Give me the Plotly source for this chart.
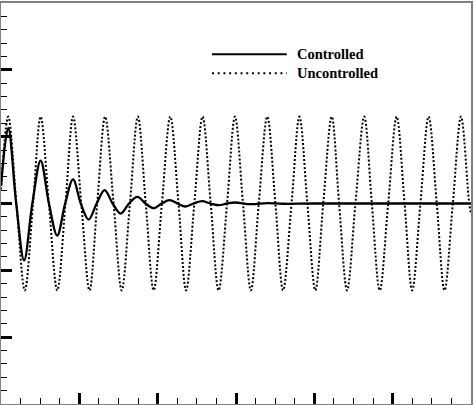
import plotly.graph_objects as go

# Uncontrolled response: extrema and zero crossings
unc_t = [0.0, 0.092, 0.197, 0.304, 0.409, 0.506, 0.611, 0.718, 0.823, 0.920,
         1.025, 1.130, 1.228, 1.329, 1.437, 1.541, 1.646, 1.747, 1.848, 1.949,
         2.054, 2.161, 2.266, 2.363, 2.468, 2.573, 2.677, 2.778, 2.886, 2.987,
         3.089, 3.190, 3.291, 3.399, 3.503, 3.601, 3.709, 3.810, 3.911, 4.013,
         4.114, 4.222, 4.316, 4.418, 4.525, 4.637, 4.734, 4.835, 4.943, 5.051,
         5.152, 5.249, 5.354, 5.459, 5.563, 5.662, 5.768, 5.873, 5.977, 6.0]
unc_y = [0.21, 1.3, 0, -1.3, 0, 1.3, 0, -1.3, 0, 1.3,
         0, -1.3, 0, 1.3, 0, -1.3, 0, 1.3, 0, -1.3,
         0, 1.3, 0, -1.3, 0, 1.3, 0, -1.3, 0, 1.3,
         0, -1.3, 0, 1.3, 0, -1.3, 0, 1.3, 0, -1.3,
         0, 1.3, 0, -1.3, 0, 1.3, 0, -1.3, 0, 1.3,
         0, -1.3, 0, 1.3, 0, -1.3, 0, 1.3, 0, -0.15]

# Controlled response: decaying oscillation
ctl_t = [0.0, 0.092, 0.194, 0.295, 0.400, 0.506, 0.612, 0.718, 0.819, 0.920,
         1.018, 1.118, 1.221, 1.323, 1.425, 1.528, 1.634, 1.741, 1.845, 1.949,
         2.051, 2.152, 2.253, 2.354, 2.460, 2.566, 2.675, 2.785, 2.886, 2.987,
         3.190, 3.399, 3.601, 4.0, 6.0]
ctl_y = [0.26, 1.13, 0, -0.85, 0, 0.64, 0, -0.48, 0, 0.36,
         0, -0.24, 0, 0.20, 0, -0.15, 0, 0.10, 0, -0.07,
         0, 0.05, 0, -0.045, 0, 0.035, 0, -0.025, 0, 0.015,
         -0.01, 0.006, -0.004, 0, 0]

legend_names = ['Controlled', 'Uncontrolled']

fig = go.Figure()

fig.add_trace(go.Scatter(x=unc_t, y=unc_y, mode='lines', name=legend_names[1],
                         line=dict(color='black', width=2, dash='2px,2px',
                                   shape='spline', smoothing=1),
                         showlegend=False))
fig.add_trace(go.Scatter(x=ctl_t, y=ctl_y, mode='lines', name=legend_names[0],
                         line=dict(color='black', width=2.3,
                                   shape='spline', smoothing=1),
                         showlegend=False))

# Hand-drawn legend (long sample lines like the original)
fig.add_shape(type='line', xref='paper', yref='paper',
              x0=0.449, x1=0.608, y0=0.872, y1=0.872,
              line=dict(color='black', width=2))
fig.add_shape(type='line', xref='paper', yref='paper',
              x0=0.449, x1=0.608, y0=0.825, y1=0.825,
              line=dict(color='black', width=2, dash='2px,3.7px'))
for name, ypos in zip(legend_names, [0.872, 0.825]):
    fig.add_annotation(text=name, xref='paper', yref='paper', x=0.625, y=ypos,
                       xanchor='left', yanchor='middle', showarrow=False,
                       font=dict(family='Liberation Serif', size=14.5,
                                 color='black', weight='bold'))

axis_common = dict(showgrid=False, zeroline=False, showticklabels=False,
                   showline=True, linecolor='#808080', linewidth=2, mirror=True,
                   ticks='inside', ticklen=11, tickwidth=3, tickcolor='black')

fig.update_xaxes(range=[0, 6], dtick=1, tick0=0,
                 minor=dict(dtick=0.25, ticks='inside', ticklen=6,
                            tickwidth=1, tickcolor='black'),
                 **axis_common)
fig.update_yaxes(range=[-3, 3], dtick=1, tick0=0,
                 minor=dict(dtick=0.2, ticks='inside', ticklen=6,
                            tickwidth=1, tickcolor='black'),
                 **axis_common)

fig.update_layout(width=474, height=405,
                  margin=dict(l=1, r=1, t=1, b=1),
                  plot_bgcolor='white', paper_bgcolor='white')

# drop the page's default body margin so the figure sits at the window edge
fig.write_html("out.html", config={'displayModeBar': False},
               post_script="document.body.style.margin='0';")
